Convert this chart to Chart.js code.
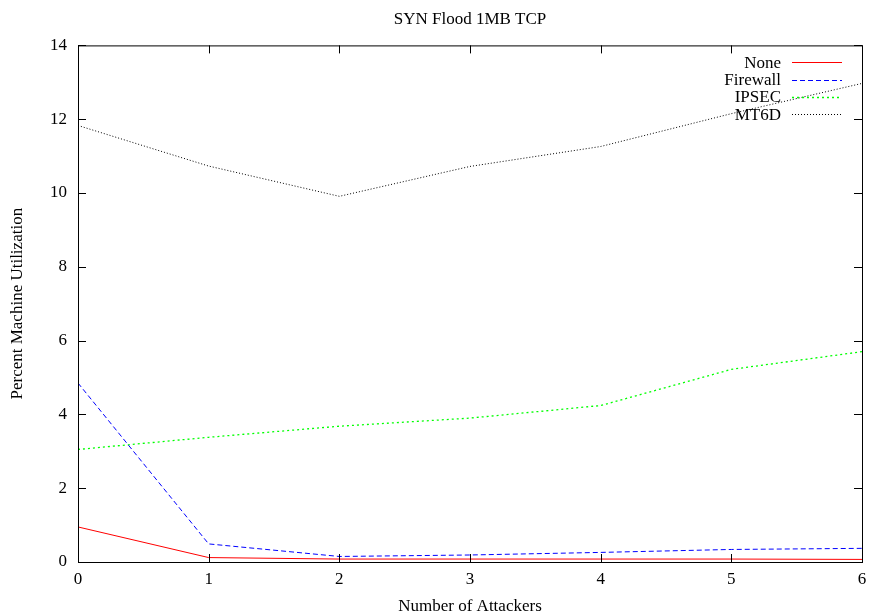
<!DOCTYPE html>
<html>
<head>
<meta charset="utf-8">
<script src="https://cdn.jsdelivr.net/npm/chart.js@4/dist/chart.umd.min.js"></script>
<style>
  html, body { margin: 0; padding: 0; background: #fff; }
  canvas { display: block; }
</style>
</head>
<body>
<canvas id="chart" width="871" height="614"></canvas>
<script>
// Chart values
const attackers = [0, 1, 2, 3, 4, 5, 6];
const noneVals = [0.95, 0.12, 0.08, 0.08, 0.08, 0.08, 0.07];
const firewallVals = [4.85, 0.49, 0.15, 0.19, 0.26, 0.34, 0.37];
const ipsecVals = [3.05, 3.38, 3.68, 3.9, 4.24, 5.22, 5.7];
const mt6dVals = [11.83, 10.73, 9.91, 10.72, 11.26, 12.15, 12.97];
const seriesNames = ['None', 'Firewall', 'IPSEC', 'MT6D'];

const serif = '"Liberation Serif", "DejaVu Serif", serif';

// Draws the frame box, inward ticks and gnuplot style key
const gnuplotFrame = {
  id: 'gnuplotFrame',
  afterDatasetsDraw(chart) {
    const { ctx, chartArea: a, scales } = chart;
    ctx.save();
    ctx.strokeStyle = '#000';
    ctx.lineWidth = 1;
    ctx.setLineDash([]);
    ctx.strokeRect(a.left + 0.5, a.top + 0.5, a.right - a.left, a.bottom - a.top);

    const tl = 8;
    ctx.beginPath();
    scales.x.ticks.forEach(t => {
      const px = Math.round(scales.x.getPixelForValue(t.value)) + 0.5;
      ctx.moveTo(px, a.bottom); ctx.lineTo(px, a.bottom - tl);
      ctx.moveTo(px, a.top); ctx.lineTo(px, a.top + tl);
    });
    scales.y.ticks.forEach(t => {
      const py = Math.round(scales.y.getPixelForValue(t.value)) + 0.5;
      ctx.moveTo(a.left, py); ctx.lineTo(a.left + tl, py);
      ctx.moveTo(a.right, py); ctx.lineTo(a.right - tl, py);
    });
    ctx.stroke();

    // key
    ctx.font = '17px ' + serif;
    ctx.textAlign = 'right';
    ctx.textBaseline = 'middle';
    chart.data.datasets.forEach((ds, i) => {
      const y = a.top + 17 + i * 17.3;
      ctx.fillStyle = '#000';
      ctx.fillText(ds.label, a.right - 81, y + 1);
      ctx.strokeStyle = ds.borderColor;
      ctx.lineWidth = ds.borderWidth;
      ctx.setLineDash(ds.borderDash || []);
      ctx.beginPath();
      ctx.moveTo(a.right - 70, Math.round(y) + 0.5);
      ctx.lineTo(a.right - 20, Math.round(y) + 0.5);
      ctx.stroke();
    });
    ctx.restore();
  }
};

const lineDefaults = { borderWidth: 1, pointRadius: 0, tension: 0, fill: false };

new Chart(document.getElementById('chart'), {
  type: 'line',
  data: {
    labels: attackers,
    datasets: [
      { ...lineDefaults, label: seriesNames[0], data: noneVals, borderColor: '#ff0000' },
      { ...lineDefaults, label: seriesNames[1], data: firewallVals, borderColor: '#0000ff', borderDash: [5, 3] },
      { ...lineDefaults, label: seriesNames[2], data: ipsecVals, borderColor: '#00ff00', borderWidth: 1.3, borderDash: [2, 3] },
      { ...lineDefaults, label: seriesNames[3], data: mt6dVals, borderColor: '#000000', borderDash: [1, 2] }
    ]
  },
  options: {
    responsive: false,
    animation: false,
    layout: { padding: { left: 0, right: 9, top: 0, bottom: 0 } },
    plugins: {
      legend: { display: false },
      tooltip: { enabled: false },
      title: {
        display: true,
        fullSize: false,
        text: 'SYN Flood 1MB TCP',
        color: '#000',
        font: { family: serif, size: 17, weight: 'normal' },
        padding: { top: 9, bottom: 16 }
      }
    },
    scales: {
      x: {
        type: 'linear',
        min: 0,
        max: 6,
        ticks: { stepSize: 1, color: '#000', font: { family: serif, size: 17 }, padding: 7, maxRotation: 0 },
        grid: { display: false, drawTicks: false },
        border: { display: false },
        title: {
          display: true,
          text: 'Number of Attackers',
          color: '#000',
          font: { family: serif, size: 17 },
          padding: { top: 0, bottom: -3 }
        },
        afterFit(scale) {
          scale.height = 52;
          scale.paddingLeft = 0;
          scale.paddingRight = 0;
        }
      },
      y: {
        min: 0,
        max: 14,
        ticks: { stepSize: 2, color: '#000', font: { family: serif, size: 17 }, padding: 11 },
        grid: { display: false, drawTicks: false },
        border: { display: false },
        title: {
          display: true,
          text: 'Percent Machine Utilization',
          color: '#000',
          font: { family: serif, size: 17 },
          padding: { top: 7, bottom: 0 }
        },
        afterFit(scale) { scale.width = 78; }
      }
    }
  },
  plugins: [gnuplotFrame]
});
</script>
</body>
</html>
